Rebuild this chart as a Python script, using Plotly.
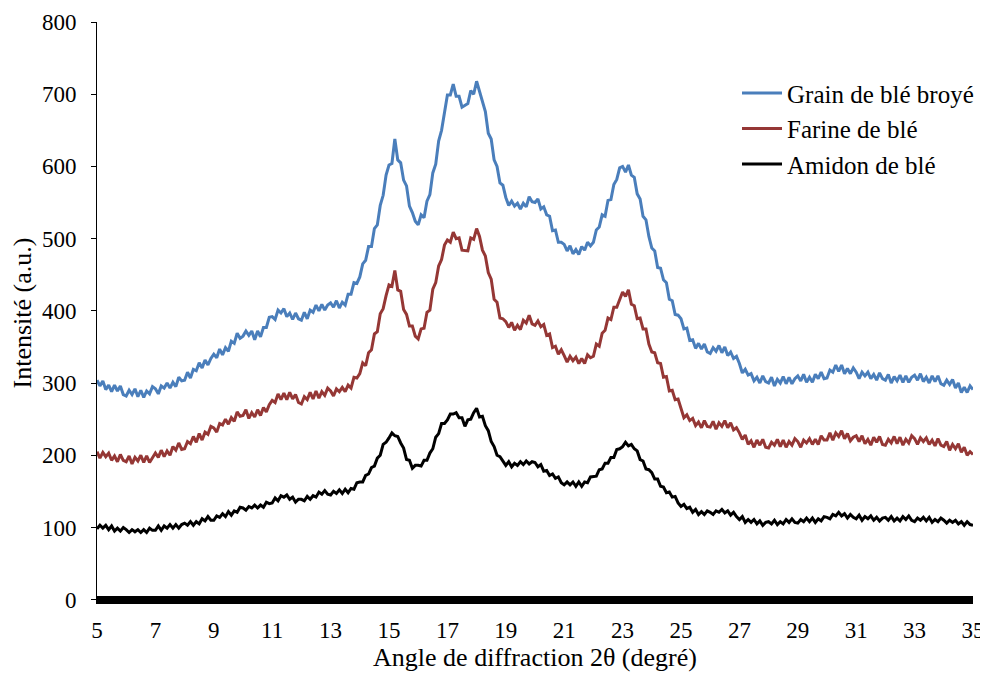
import plotly.graph_objects as go

two_theta = [round(5 + 0.1 * i, 1) for i in range(301)]

grain_broye = [
    304, 296, 303, 291, 297, 288, 297, 289, 296, 284,
    282, 290, 284, 292, 281, 290, 280, 289, 285, 295,
    292, 285, 296, 293, 300, 293, 301, 295, 308, 303,
    304, 315, 307, 319, 317, 328, 321, 332, 325, 334,
    340, 335, 347, 339, 349, 344, 358, 355, 369, 362,
    365, 372, 366, 372, 360, 372, 364, 377, 377, 391,
    392, 388, 401, 397, 403, 392, 397, 388, 397, 389,
    387, 398, 389, 401, 398, 408, 400, 409, 401, 408,
    411, 405, 414, 404, 412, 408, 423, 423, 439, 438,
    447, 465, 470, 489, 489, 514, 519, 546, 560, 588,
    602, 604, 638, 609, 605, 581, 573, 545, 536, 524,
    519, 533, 529, 552, 561, 591, 603, 635, 650, 676,
    699, 699, 714, 697, 697, 682, 685, 687, 705, 700,
    718, 703, 688, 676, 646, 638, 609, 600, 577, 574,
    557, 546, 552, 545, 549, 541, 549, 544, 558, 551,
    550, 555, 541, 544, 533, 531, 511, 512, 495, 495,
    492, 483, 490, 479, 485, 478, 489, 484, 495, 490,
    495, 512, 516, 533, 531, 553, 554, 575, 582, 598,
    600, 592, 602, 588, 585, 562, 555, 531, 526, 503,
    487, 483, 460, 459, 443, 439, 416, 414, 395, 394,
    389, 375, 376, 359, 360, 348, 355, 347, 354, 343,
    341, 349, 344, 352, 342, 350, 338, 343, 334, 337,
    327, 314, 319, 311, 313, 303, 308, 300, 310, 302,
    300, 308, 296, 305, 300, 309, 299, 308, 299, 306,
    310, 303, 312, 301, 308, 301, 312, 306, 315, 306,
    307, 318, 315, 325, 316, 325, 313, 320, 313, 321,
    315, 306, 315, 310, 315, 306, 312, 304, 314, 306,
    304, 312, 300, 309, 303, 311, 301, 310, 301, 308,
    311, 304, 313, 302, 308, 300, 310, 302, 310, 299,
    297, 304, 298, 305, 293, 300, 287, 294, 287, 296,
    291,
]

farine = [
    205, 196, 204, 198, 203, 193, 199, 191, 201, 193,
    191, 199, 188, 197, 192, 200, 190, 199, 190, 197,
    203, 197, 207, 198, 206, 200, 212, 207, 217, 208,
    209, 219, 216, 226, 218, 230, 221, 232, 229, 240,
    238, 232, 244, 242, 250, 243, 252, 247, 260, 254,
    255, 263, 251, 259, 253, 263, 255, 266, 260, 270,
    276, 273, 285, 277, 286, 277, 287, 278, 284, 273,
    271, 281, 277, 287, 278, 289, 279, 288, 283, 293,
    289, 282, 292, 288, 294, 288, 297, 293, 308, 307,
    313, 328, 324, 342, 346, 368, 371, 396, 403, 421,
    436, 434, 456, 429, 427, 402, 395, 379, 379, 365,
    361, 375, 376, 398, 401, 430, 439, 462, 471, 491,
    498, 495, 509, 500, 501, 484, 483, 483, 501, 499,
    514, 503, 484, 476, 453, 444, 416, 412, 390, 389,
    385, 377, 384, 373, 380, 374, 387, 383, 394, 382,
    380, 386, 378, 381, 366, 368, 349, 351, 340, 346,
    338, 329, 337, 331, 336, 327, 334, 327, 339, 335,
    337, 354, 351, 369, 373, 390, 388, 405, 405, 417,
    426, 420, 429, 409, 407, 389, 390, 375, 375, 354,
    343, 342, 328, 327, 308, 309, 289, 290, 277, 278,
    266, 252, 256, 248, 251, 241, 246, 238, 248, 240,
    239, 247, 236, 245, 240, 248, 238, 245, 235, 238,
    231, 222, 228, 215, 220, 211, 221, 214, 222, 211,
    210, 218, 214, 222, 212, 221, 211, 219, 214, 223,
    219, 211, 221, 217, 223, 215, 222, 215, 227, 221,
    221, 231, 221, 231, 226, 234, 223, 230, 220, 225,
    227, 219, 227, 216, 222, 214, 225, 218, 226, 215,
    214, 222, 217, 226, 216, 225, 214, 222, 217, 227,
    223, 215, 224, 219, 224, 215, 221, 213, 223, 214,
    212, 219, 207, 215, 209, 216, 204, 211, 200, 205,
    201,
]

amidon = [
    98, 103, 99, 103, 97, 102, 95, 99, 95, 100,
    97, 93, 97, 94, 97, 93, 97, 93, 99, 96,
    96, 102, 96, 102, 99, 104, 99, 104, 99, 104,
    106, 103, 108, 103, 108, 105, 112, 109, 115, 110,
    110, 116, 114, 119, 115, 122, 117, 123, 121, 128,
    127, 124, 129, 127, 131, 127, 131, 128, 135, 133,
    134, 141, 137, 144, 142, 145, 139, 142, 135, 139,
    139, 137, 143, 139, 144, 142, 149, 146, 151, 146,
    145, 150, 147, 152, 147, 153, 148, 154, 153, 162,
    163, 163, 172, 174, 183, 185, 196, 200, 215, 218,
    224, 231, 227, 226, 217, 210, 194, 193, 182, 186,
    186, 185, 193, 193, 203, 209, 225, 230, 244, 244,
    249, 257, 257, 259, 252, 252, 240, 249, 250, 259,
    265, 253, 254, 241, 234, 219, 212, 200, 198, 191,
    186, 191, 184, 189, 186, 191, 187, 192, 188, 191,
    190, 184, 187, 178, 179, 172, 174, 168, 170, 162,
    159, 163, 159, 163, 157, 163, 157, 163, 162, 170,
    171, 171, 180, 181, 189, 189, 197, 197, 208, 209,
    212, 218, 213, 215, 209, 206, 194, 192, 181, 180,
    176, 167, 167, 157, 156, 148, 149, 142, 143, 134,
    129, 132, 126, 128, 121, 125, 118, 122, 118, 123,
    121, 118, 123, 121, 125, 120, 123, 117, 121, 115,
    111, 115, 107, 111, 107, 111, 105, 109, 103, 107,
    108, 105, 110, 104, 108, 105, 111, 107, 112, 107,
    106, 111, 108, 113, 108, 113, 107, 112, 109, 115,
    114, 112, 118, 116, 121, 116, 119, 113, 118, 114,
    112, 117, 110, 115, 112, 116, 110, 114, 109, 113,
    114, 110, 115, 109, 113, 109, 115, 111, 116, 110,
    108, 113, 110, 114, 109, 114, 107, 111, 108, 113,
    110, 106, 110, 107, 110, 105, 108, 103, 108, 104,
    103,
]

series_names = ["Grain de blé broyé", "Farine de blé", "Amidon de blé"]
series_colors = ["#4A7EBB", "#953735", "#000000"]
x_ticks = list(range(5, 36, 2))
y_ticks = list(range(0, 801, 100))

FONT = "Liberation Serif, Times New Roman, Times, serif"

fig = go.Figure()
for name, vals, col in zip(series_names, [grain_broye, farine, amidon], series_colors):
    fig.add_trace(go.Scatter(x=two_theta, y=vals, mode="lines", name=name,
                             line=dict(color=col, width=3)))

fig.update_layout(
    width=988, height=665,
    paper_bgcolor="white", plot_bgcolor="white",
    margin=dict(l=89, r=23, t=14, b=69),
    font=dict(family=FONT, size=23, color="black"),
    showlegend=True,
    legend=dict(x=0.7306, y=0.917, xanchor="left", yanchor="top",
                font=dict(family=FONT, size=25, color="black"),
                bgcolor="rgba(0,0,0,0)", tracegroupgap=0, itemwidth=40),
    xaxis=dict(range=[5, 35], tickvals=x_ticks, ticktext=[str(t) for t in x_ticks],
               showgrid=False, zeroline=False, showline=False,
               ticks="", ticklabelstandoff=10, automargin=False,
               tickfont=dict(family=FONT, size=23),
               title=dict(text="Angle de diffraction 2θ (degré)", standoff=4,
                          font=dict(family=FONT, size=26))),
    yaxis=dict(range=[-6, 800], tickvals=y_ticks, showgrid=False,
               zeroline=True, zerolinecolor="black", zerolinewidth=8,
               showline=True, linecolor="black", linewidth=1, ticks="outside",
               ticklen=5, tickcolor="black", automargin=False,
               ticklabelstandoff=10,
               tickfont=dict(family=FONT, size=23),
               title=dict(text="Intensité (a.u.)", standoff=14,
                          font=dict(family=FONT, size=26))),
)

fig.write_html("out.html")
